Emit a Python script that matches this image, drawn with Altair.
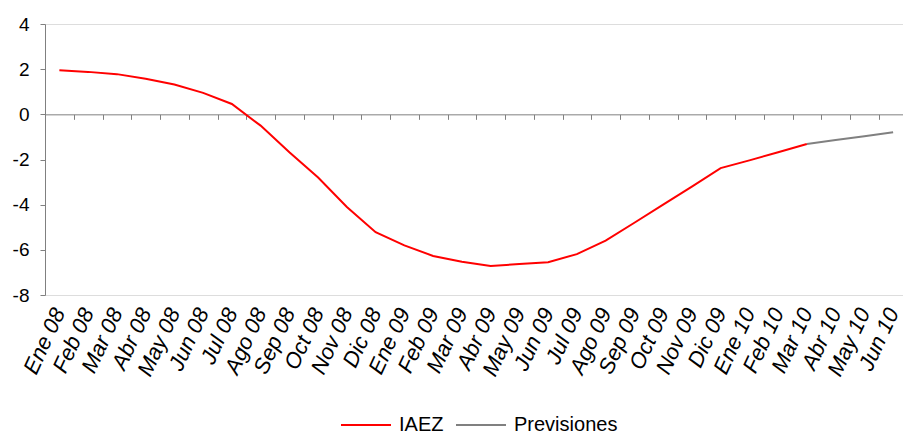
import altair as alt
import pandas as pd

meses = ["Ene 08", "Feb 08", "Mar 08", "Abr 08", "May 08", "Jun 08", "Jul 08", "Ago 08",
         "Sep 08", "Oct 08", "Nov 08", "Dic 08", "Ene 09", "Feb 09", "Mar 09", "Abr 09",
         "May 09", "Jun 09", "Jul 09", "Ago 09", "Sep 09", "Oct 09", "Nov 09", "Dic 09",
         "Ene 10", "Feb 10", "Mar 10", "Abr 10", "May 10", "Jun 10"]

iaez_meses = meses[:27]
iaez = [1.95, 1.88, 1.78, 1.58, 1.32, 0.95, 0.46, -0.50, -1.68, -2.80, -4.10, -5.22,
        -5.80, -6.27, -6.53, -6.72, -6.63, -6.55, -6.19, -5.59, -4.80, -4.00, -3.20,
        -2.38, -2.04, -1.68, -1.31]

prev_meses = ["Mar 10", "Abr 10", "May 10", "Jun 10"]
previsiones = [-1.31, -1.14, -0.97, -0.79]

series = ["IAEZ", "Previsiones"]
colores = ["#FF0000", "#808080"]
y_ticks = [-8, -6, -4, -2, 0, 2, 4]

df = pd.concat([
    pd.DataFrame({"mes": iaez_meses, "valor": iaez, "serie": "IAEZ"}),
    pd.DataFrame({"mes": prev_meses, "valor": previsiones, "serie": "Previsiones"}),
], ignore_index=True)

W = 858
H = 271
BAND = 28.75
FONT = "Liberation Sans"
GREY = "#808080"

xscale = alt.Scale(type="band", paddingInner=0, paddingOuter=0, range=[0, BAND * len(meses)])
yscale = alt.Scale(domain=[-8, 4], nice=False, zero=False)

yaxis = alt.Axis(title=None, values=y_ticks, grid=False, domainColor=GREY, tickColor=GREY,
                 tickSize=5, labelColor="black", labelFont=FONT, labelFontSize=19,
                 labelPadding=11, labelExpr="'' + datum.value")

base = alt.Chart(df)

line = base.mark_line(strokeWidth=2).encode(
    x=alt.X("mes:N", sort=meses, scale=xscale,
            axis=alt.Axis(title=None, orient="bottom", offset=-(H * 8 / 12), labels=False,
                          domainColor=GREY, tickColor=GREY, tickSize=5, tickBand="extent",
                          domainWidth=1, tickWidth=1)),
    y=alt.Y("valor:Q", scale=yscale, axis=yaxis),
    color=alt.Color("serie:N", scale=alt.Scale(domain=series, range=colores),
                    legend=alt.Legend(title=None, orient="none", direction="horizontal",
                                      legendX=295, legendY=375, symbolType="stroke",
                                      symbolSize=2500, symbolStrokeWidth=2,
                                      labelFont=FONT, labelFontSize=20, labelColor="black",
                                      labelOffset=7, columnPadding=8)),
    detail="serie:N",
)

labels = base.mark_point(opacity=0).encode(
    x=alt.X("mes:N", sort=meses, scale=xscale,
            axis=alt.Axis(title=None, orient="bottom", domain=False, ticks=False,
                          labelAngle=-65, labelFont=FONT, labelFontStyle="italic",
                          labelFontSize=22, labelColor="black", labelPadding=14,
                          labelOverlap=False)),
    y=alt.Y("valor:Q", scale=yscale, axis=yaxis),
)

chart = alt.layer(line, labels).resolve_axis(x="independent").properties(
    width=W, height=H,
    autosize=alt.AutoSizeParams(type="none"),
    padding={"left": 37, "top": 16, "right": 0, "bottom": 142},
).configure_view(stroke=None).configure(background="white")

chart.save("out.html", embed_options={"renderer": "svg", "actions": False})
